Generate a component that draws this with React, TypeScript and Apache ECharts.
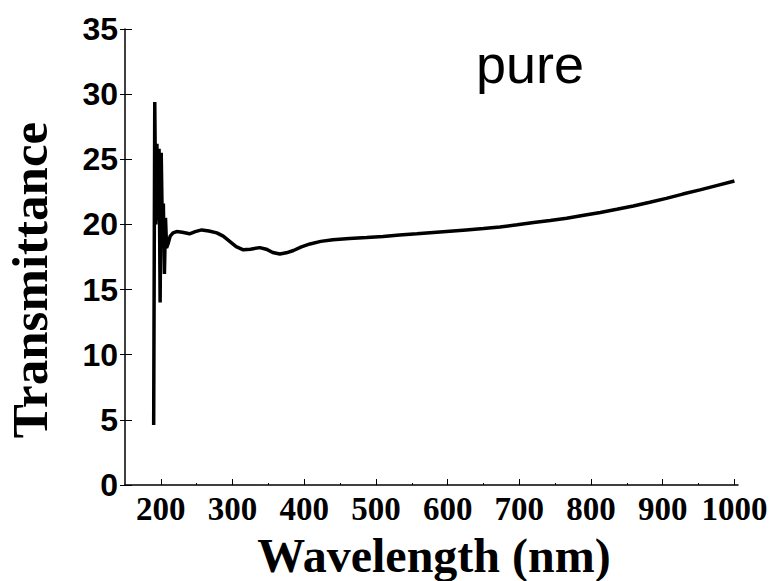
import React, { useEffect, useRef } from "react";
import * as echarts from "echarts";

const wavelengths = [
  190, 191.5, 193, 194.5, 196, 197.5, 199, 200.5, 202, 203.5, 205, 206.5, 208, 210, 213,
  217, 222, 230, 240, 248, 257, 267, 278, 287, 296, 305, 315, 325, 338, 347, 356, 366,
  375, 385, 396, 408, 423, 440, 463, 487, 510, 533, 557, 580, 603, 626, 650, 673, 697,
  720, 743, 766, 790, 813, 836, 859, 882, 905, 928, 952, 975, 1000,
];
const transmittance = [
  4.6, 29.4, 20.0, 26.2, 20.3, 25.8, 14.0, 25.5, 20.0, 21.6, 16.2, 20.5, 18.2, 18.5, 19.1,
  19.35, 19.45, 19.4, 19.28, 19.45, 19.58, 19.5, 19.35, 19.1, 18.7, 18.3, 18.05, 18.1, 18.22,
  18.1, 17.85, 17.73, 17.82, 18.0, 18.27, 18.5, 18.7, 18.82, 18.92, 19.0, 19.08, 19.18, 19.28,
  19.38, 19.48, 19.58, 19.68, 19.8, 19.97, 20.15, 20.3, 20.47, 20.7, 20.92, 21.16, 21.41,
  21.7, 22.0, 22.33, 22.65, 22.98, 23.33,
];
const xTicks = [200, 300, 400, 500, 600, 700, 800, 900, 1000];
const xMinorTicks = [250, 350, 450, 550, 650, 750, 850, 950];
const label = "pure";
const xTitle = "Wavelength (nm)";
const yTitle = "Transmittance";

export default function App() {
  const ref = useRef<HTMLDivElement>(null);
  useEffect(() => {
    if (!ref.current) return;
    const chart = echarts.init(ref.current, null, { renderer: "svg" });
    const data = wavelengths.map((w, i) => [w, transmittance[i]]);
    chart.setOption({
      animation: false,
      backgroundColor: "#ffffff",
      grid: { left: 125, right: 38, top: 29, bottom: 96 },
      xAxis: [
        {
          type: "value",
          min: 150,
          max: 1005,
          position: "bottom",
          axisLine: { show: true, lineStyle: { color: "#000", width: 1.5 } },
          axisTick: {
            show: true,
            inside: true,
            length: 6,
            customValues: xTicks,
            lineStyle: { color: "#000", width: 1 },
          },
          axisLabel: {
            customValues: xTicks,
            formatter: (v: number) => String(v),
            color: "#000",
            fontFamily: "Liberation Serif",
            fontWeight: "bold",
            fontSize: 33,
            margin: 7,
          },
          splitLine: { show: false },
        },
        {
          type: "value",
          min: 150,
          max: 1005,
          position: "bottom",
          axisLine: { show: false },
          axisTick: {
            show: true,
            inside: true,
            length: 2,
            customValues: xMinorTicks,
            lineStyle: { color: "#000", width: 1 },
          },
          axisLabel: { show: false },
          splitLine: { show: false },
        },
      ],
      yAxis: [
        {
          type: "value",
          min: 0,
          max: 35,
          interval: 5,
          axisLine: { show: true, lineStyle: { color: "#000", width: 1.5 } },
          axisTick: { show: true, length: 5, lineStyle: { color: "#000", width: 1 } },
          axisLabel: {
            color: "#000",
            fontFamily: "Liberation Sans",
            fontWeight: "bold",
            fontSize: 32,
            margin: 7,
          },
          splitLine: { show: false },
        },
        {
          type: "value",
          min: 0,
          max: 35,
          interval: 5,
          position: "left",
          axisLine: { show: false },
          axisTick: { show: true, inside: true, length: 7, lineStyle: { color: "#000", width: 1 } },
          axisLabel: { show: false },
          splitLine: { show: false },
        },
      ],
      graphic: [
        {
          type: "text",
          left: 476,
          top: 37,
          style: {
            text: label,
            fontFamily: "Liberation Sans",
            fontSize: 54,
            fill: "#000",
          },
        },
        {
          type: "text",
          x: 434,
          y: 555,
          style: {
            text: xTitle,
            fontFamily: "Liberation Serif",
            fontWeight: "bold",
            fontSize: 48,
            fill: "#000",
            align: "center",
            verticalAlign: "middle",
          },
        },
        {
          type: "text",
          x: 30,
          y: 280,
          rotation: Math.PI / 2,
          style: {
            text: yTitle,
            fontFamily: "Liberation Serif",
            fontWeight: "bold",
            fontSize: 51,
            fill: "#000",
            align: "center",
            verticalAlign: "middle",
          },
        },
      ],
      series: [
        {
          type: "line",
          data,
          xAxisIndex: 0,
          yAxisIndex: 0,
          showSymbol: false,
          smooth: false,
          lineStyle: { color: "#000", width: 3.5 },
        },
      ],
    });
    return () => chart.dispose();
  }, []);
  return (
    <div
      ref={ref}
      style={{ position: "absolute", left: 0, top: 0, width: 776, height: 581 }}
    />
  );
}
